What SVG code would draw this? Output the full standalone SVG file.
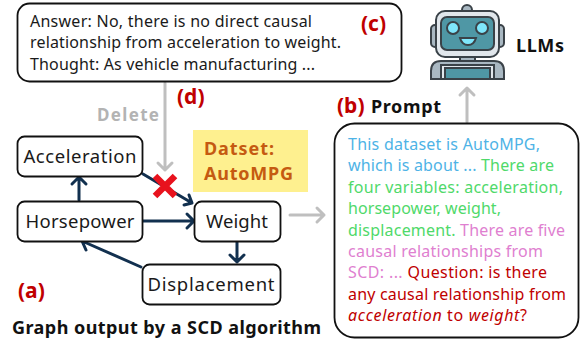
<svg xmlns="http://www.w3.org/2000/svg" width="580" height="340" viewBox="0 0 580 340">
<style>
text{font-family:"Noto Sans","Open Sans","Liberation Sans",sans-serif;fill:#1a1a1a}
.box{fill:#fff;stroke:#111;stroke-width:1.8}
.n{font-size:18.5px;text-anchor:middle}
.t{font-size:16px}
.b{font-weight:700}
.r{font-weight:700;font-size:21px;fill:#c00000}
.e{fill:none;stroke:#12304f;stroke-width:3;stroke-linecap:round;stroke-linejoin:round}
.g{fill:none;stroke:#bfbfbf;stroke-width:3;stroke-linecap:round;stroke-linejoin:round}
.rb{stroke:#3a4248;stroke-width:2}
</style>
<rect width="580" height="340" fill="#fff"/>
<g id="dataset"><rect x="193" y="130" width="115" height="62" fill="#fef08f"/>
<text class="b" x="204" y="155" font-size="18" style="fill:#c55a11" textLength="70">Datset:</text>
<text class="b" x="204" y="180" font-size="18" style="fill:#c55a11" textLength="89">AutoMPG</text></g>
<g id="connectors">
<path class="g" d="M165 83V170M158 163L165 170L172 163"/>
<path class="g" d="M290 215H324M317 208L324 215L317 222"/>
<path class="g" d="M467 122V88M460 95L467 88L474 95"/>
<path class="e" d="M79 200V177M72 184L79 177L86 184"/>
<path class="e" d="M143 174L192 203M184 205L192 203L189 195"/>
<path class="e" d="M143 221H194M187 214L194 221L187 228"/>
<path class="e" d="M237 241V262M230 255L237 262L244 255"/>
<path class="e" d="M141 267L82 241M90 239L82 241L86 250"/>
</g>
<g id="acceleration"><rect class="box" x="17.500" y="136.500" width="125" height="40" rx="7"/><text class="n" x="80" y="163" textLength="113">Acceleration</text></g>
<g id="horsepower"><rect class="box" x="17.500" y="201.500" width="125" height="40" rx="7"/><text class="n" x="80" y="228" textLength="109">Horsepower</text></g>
<g id="weight"><rect class="box" x="194.500" y="201.500" width="86" height="40" rx="7"/><text class="n" x="237" y="228" textLength="62">Weight</text></g>
<g id="displacement"><rect class="box" x="142.500" y="264.500" width="138" height="40" rx="7"/><text class="n" x="211" y="291" textLength="127">Displacement</text></g>
<g id="cross"><path d="M155 176L175 196M175 176L155 196" stroke="#e8121d" stroke-width="6.500" fill="none"/></g>
<g id="labels">
<text class="b" x="97" y="121" font-size="17" style="fill:#b3b3b3" textLength="62">Delete</text>
<text class="r" x="177" y="104">(d)</text>
<text class="r" x="18" y="298">(a)</text>
<text class="r" x="337" y="113">(b)</text>
<text class="b" x="371" y="113" font-size="18" style="fill:#111" textLength="70">Prompt</text>
<text class="b" x="12" y="334" font-size="18" style="fill:#111" textLength="309">Graph output by a SCD algorithm</text>
<text class="b" x="516" y="52" font-size="18" style="fill:#111" textLength="48">LLMs</text>
</g>
<g id="output"><rect class="box" x="17.500" y="3.500" width="384" height="78" rx="12"/>
<text class="t" x="30" y="27" textLength="282">Answer: No, there is no direct causal</text>
<text class="t" x="30" y="48" textLength="311">relationship from acceleration to weight.</text>
<text class="t" x="30" y="70" textLength="285">Thought: As vehicle manufacturing ...</text>
<text class="r" x="361" y="31">(c)</text></g>
<g id="prompt"><rect class="box" x="334.500" y="123.500" width="244" height="214" rx="20"/>
<g class="t">
<text x="348" y="150" style="fill:#4eb3e6" textLength="192">This dataset is AutoMPG,</text>
<text x="348" y="171" textLength="206"><tspan style="fill:#4eb3e6">which is about ... </tspan><tspan style="fill:#4fd96a">There are</tspan></text>
<text x="348" y="193" style="fill:#4fd96a" textLength="215">four variables: acceleration,</text>
<text x="348" y="214" style="fill:#4fd96a" textLength="153">horsepower, weight,</text>
<text x="348" y="236" textLength="217"><tspan style="fill:#4fd96a">displacement. </tspan><tspan style="fill:#e07fd0">There are five</tspan></text>
<text x="348" y="257" style="fill:#e07fd0" textLength="195">causal relationships from</text>
<text x="348" y="278" textLength="199"><tspan style="fill:#e07fd0">SCD: ... </tspan><tspan style="fill:#c00000">Question: is there</tspan></text>
<text x="348" y="300" style="fill:#c00000" textLength="218">any causal relationship from</text>
<text x="348" y="321" style="fill:#c00000" textLength="179"><tspan font-style="italic" style="fill:#c00000">acceleration</tspan> to <tspan font-style="italic" style="fill:#c00000">weight</tspan>?</text>
</g></g>
<g id="llms">
<circle class="rb" cx="467" cy="10" r="5" fill="#a9b8c2"/>
<rect class="rb" x="431" y="25" width="8" height="22" rx="4" fill="#a9b8c2"/>
<rect class="rb" x="496" y="25" width="8" height="22" rx="4" fill="#a9b8c2"/>
<rect class="rb" x="436" y="11" width="63" height="46" rx="9" fill="#e1e7ec"/>
<rect class="rb" x="441" y="17" width="53" height="33" rx="6" fill="#4f97a5"/>
<circle class="rb" cx="453" cy="28" r="6" fill="#7fe6fb"/>
<circle class="rb" cx="482" cy="28" r="6" fill="#7fe6fb"/>
<path class="rb" d="M460 38H476Q474 45 468 45Q462 45 460 38Z" fill="#7fe6fb"/>
<rect class="rb" x="460" y="57" width="15" height="4" fill="#a9b8c2"/>
<path class="rb" d="M431 79V71Q431 61 441 61H494Q504 61 504 71V79Z" fill="#a9b8c2"/>
<path class="rb" d="M441 79V65H494V79Z" fill="#e1e7ec"/>
<rect class="rb" x="445" y="68" width="45" height="11" fill="#4f97a5"/>
</g>
</svg>
